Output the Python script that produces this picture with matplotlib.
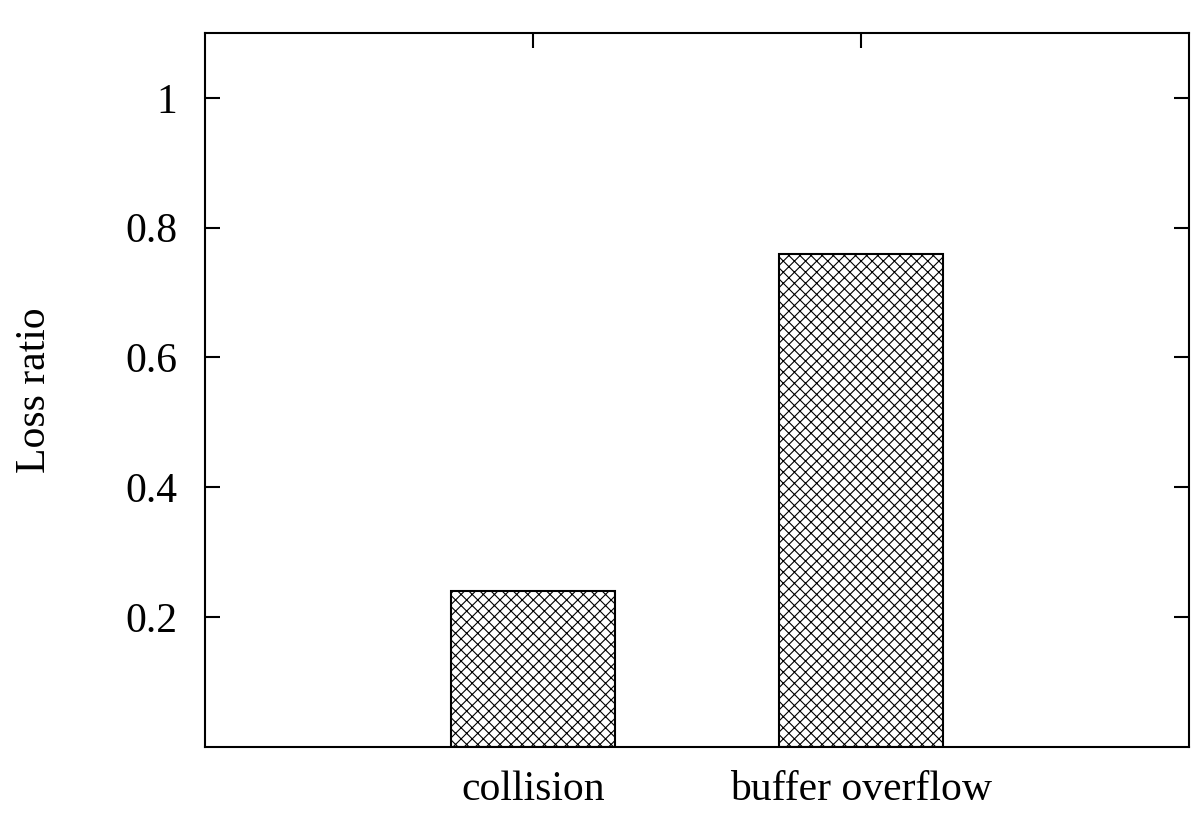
import matplotlib
matplotlib.use("Agg")
import matplotlib.pyplot as plt

categories = ["collision", "buffer overflow"]
loss_ratio = [0.24, 0.76]
ytick_values = [0.2, 0.4, 0.6, 0.8, 1.0]
ytick_labels = ["0.2", "0.4", "0.6", "0.8", "1"]

plt.rcParams['font.family'] = ['Liberation Serif', 'DejaVu Serif']
plt.rcParams['hatch.color'] = '#444444'
plt.rcParams['hatch.linewidth'] = 0.8

fig = plt.figure(figsize=(12, 8.38), dpi=100)
ax = fig.add_axes([205/1200, 1 - 746.7/838, (1189-205)/1200, (746.7-33)/838])

positions = [1, 2]
ax.bar(positions, loss_ratio, width=0.5, facecolor='white', edgecolor='black',
       linewidth=1.5, hatch='xxx', zorder=2)

ax.set_xlim(0, 3)
ax.set_ylim(0, 1.1)
ax.set_xticks(positions)
ax.set_xticklabels(categories)
ax.set_yticks(ytick_values)
ax.set_yticklabels(ytick_labels)
ax.tick_params(axis='both', direction='in', length=11, width=1.5,
               top=True, right=True, labelsize=30)
ax.tick_params(axis='y', pad=20)
ax.tick_params(axis='x', pad=17)
for s in ax.spines.values():
    s.set_linewidth(1.5)

ax.set_ylabel("Loss ratio", fontsize=30)
ax.yaxis.set_label_coords(-(205-54)/984, 0.5)

fig.savefig("out.png", dpi=100)
